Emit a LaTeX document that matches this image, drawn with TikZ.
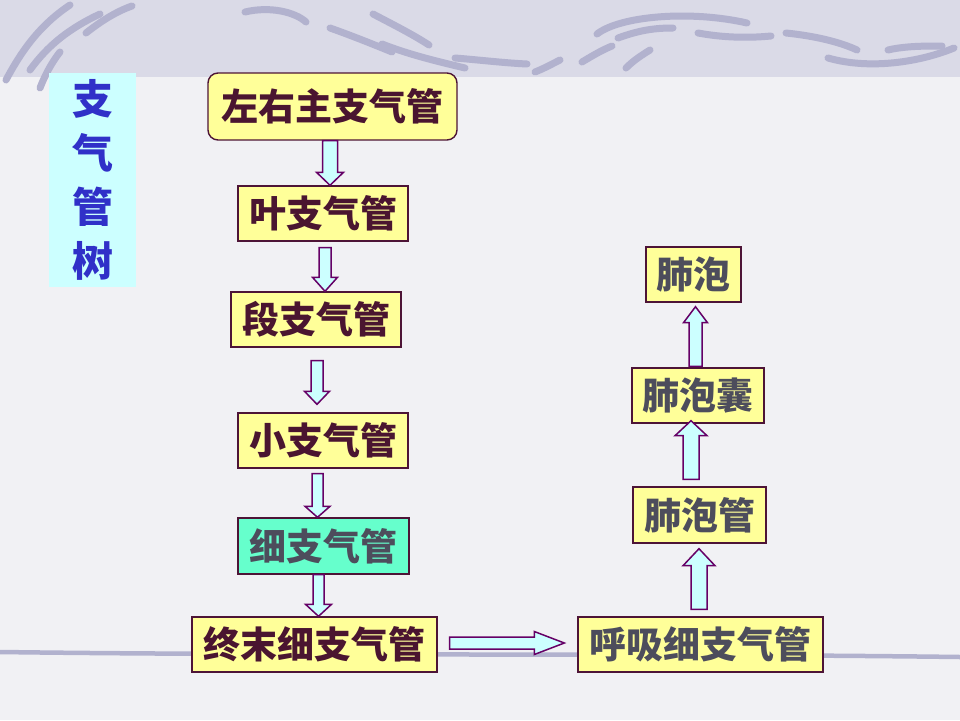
\documentclass[tikz,border=0pt]{standalone}
\usepackage{fontspec}
\newfontfamily\cjk{Noto Sans CJK SC}
\usetikzlibrary{calc}
\definecolor{slidebg}{HTML}{F1F1F4}
\definecolor{bandbg}{HTML}{DADAE7}
\definecolor{swirl}{HTML}{B2B2CE}
\definecolor{boxfill}{HTML}{FFFF99}
\definecolor{aquafill}{HTML}{66FFCC}
\definecolor{titlefill}{HTML}{CCFFFF}
\definecolor{titletext}{HTML}{3030C8}
\definecolor{boxline}{HTML}{4D1436}
\definecolor{lefttext}{HTML}{4A1530}
\definecolor{righttext}{HTML}{4D4D5C}
\definecolor{arrowfill}{HTML}{CCFFFF}
\definecolor{arrowline}{HTML}{660066}
\tikzset{x=1pt, y=-1pt, % one unit is one pixel of the slide
organ/.style 2 args={ % yellow boxes of the tree
draw=boxline,
fill=boxfill,
line width=1.4pt,
inner sep=0pt,
minimum width=#1,
minimum height=#2,
text=lefttext,
font=\cjk\bfseries\fontsize{37}{40}\selectfont},
blockarrow/.style n args={3}{ % hollow arrow: shaft half width, head half width, head length
draw=arrowline,
fill=arrowfill,
line width=1.5pt,
to path={let \p1=($(\tikztotarget)!#3!(\tikztostart)$) in
($(\tikztostart)!#1!90:(\tikztotarget)$) -- ($(\p1)!#1!90:(\tikztotarget)$)
-- ($(\p1)!#2!90:(\tikztotarget)$) -- (\tikztotarget)
-- ($(\p1)!#2!-90:(\tikztotarget)$) -- ($(\p1)!#1!-90:(\tikztotarget)$)
-- ($(\tikztostart)!#1!-90:(\tikztotarget)$) -- cycle}}}

\begin{document}
\begin{tikzpicture}
\useasboundingbox (0,0) rectangle (960,720);
% slide background
\fill[slidebg] (0,0) rectangle (960,720);
\fill[bandbg] (0,0) rectangle (960,77);
\begin{scope}[draw=swirl, line width=7pt, line cap=round]
\draw (6,80) .. controls (22,50) and (40,25) .. (70,5);
\draw (30,70) .. controls (48,45) and (70,28) .. (100,14);
\draw (86,33) .. controls (100,22) and (115,12) .. (132,6);
\draw (40,88) .. controls (45,75) and (52,62) .. (60,52);
\draw (245,12) .. controls (270,6) and (295,12) .. (306,22);
\draw (330,28) .. controls (350,35) and (375,45) .. (392,52);
\draw (373,14) .. controls (392,24) and (412,34) .. (429,45);
\draw (382,44) .. controls (410,55) and (440,62) .. (465,68);
\draw (455,58) .. controls (480,60) and (505,63) .. (527,64);
\draw (535,72) .. controls (545,68) and (552,64) .. (560,60);
\draw (582,62) .. controls (592,56) and (602,50) .. (612,46);
\draw (626,68) .. controls (634,60) and (642,55) .. (650,50);
\draw (597,34) .. controls (620,16) and (690,10) .. (747,23);
\draw (618,38) .. controls (640,30) and (655,28) .. (673,28);
\draw (698,33) .. controls (725,38) and (750,38) .. (771,36);
\draw (786,33) .. controls (815,36) and (840,42) .. (857,50);
\draw (828,58) .. controls (870,70) and (920,62) .. (954,48);
\draw (888,50) .. controls (905,46) and (925,46) .. (942,46);
\end{scope}
\draw[swirl, line width=4.5pt, line cap=round] (0,652) .. controls (300,656) and (650,653) .. (960,657);
% left column
\node[organ={249pt}{67pt}, rounded corners=10pt] (zhu) at (332.5,106.5) {左右主支气管};
\node[organ={170pt}{55pt}] (ye) at (323,213.5) {叶支气管};
\node[organ={170pt}{55pt}] (duan) at (316,319.5) {段支气管};
\node[organ={170pt}{55pt}] (xiao) at (323,440.5) {小支气管};
\node[organ={171pt}{56pt}, fill=aquafill, text=righttext] (xi) at (323.5,546) {细支气管};
\node[organ={245pt}{55pt}] (zhongmo) at (314.5,644.5) {终末细支气管};
% right column
\node[organ={245pt}{55pt}, text=righttext] (huxi) at (700.5,644.5) {呼吸细支气管};
\node[organ={133pt}{56pt}, text=righttext] (paoguan) at (699.5,515) {肺泡管};
\node[organ={132pt}{55pt}, text=righttext] (paonang) at (698,395.5) {肺泡囊};
\node[organ={95pt}{55pt}, text=righttext] (feipao) at (693.5,274.5) {肺泡};
% title
\node[fill=titlefill, minimum width=87pt, minimum height=214pt, inner sep=0pt,
text=titletext, align=center, font=\cjk\bfseries\fontsize{41}{54}\selectfont] (title) at (92.5,180) {支\\气\\管\\树};
% arrow ends
\coordinate (a1s) at ([xshift=-2.5pt]zhu.south);
\coordinate (a1e) at ([xshift=7pt]ye.north);
\coordinate (a2s) at ([xshift=2pt,yshift=-6pt]ye.south);
\coordinate (a2e) at ([xshift=9pt]duan.north);
\coordinate (a3s) at ([xshift=1pt,yshift=-13pt]duan.south);
\coordinate (a3e) at ([xshift=-6pt,yshift=8pt]xiao.north);
\coordinate (a4s) at ([xshift=-5.5pt,yshift=-5pt]xiao.south);
\coordinate (a4e) at ([xshift=-6pt]xi.north);
\coordinate (a5s) at ([xshift=-5pt]xi.south);
\coordinate (a5e) at ([xshift=4pt]zhongmo.north);
\coordinate (h1s) at ([xshift=12pt,yshift=1.5pt]zhongmo.east);
\coordinate (h1e) at ([xshift=-13pt,yshift=1.5pt]huxi.west);
\coordinate (u1s) at ([xshift=-1.5pt,yshift=7pt]huxi.north);
\coordinate (u1e) at ([xshift=-0.5pt,yshift=-5pt]paoguan.south);
\coordinate (u2s) at ([xshift=-8.5pt,yshift=7pt]paoguan.north);
\coordinate (u2e) at ([xshift=-7pt,yshift=3pt]paonang.south);
\coordinate (u3s) at ([xshift=-2.5pt,yshift=1pt]paonang.north);
\coordinate (u3e) at ([xshift=2pt,yshift=-4pt]feipao.south);
\draw[blockarrow={7.5pt}{13.5pt}{13pt}] (a1s) to (a1e);
\draw[blockarrow={6pt}{12.5pt}{14pt}] (a2s) to (a2e);
\draw[blockarrow={6pt}{12.5pt}{13pt}] (a3s) to (a3e);
\draw[blockarrow={5.5pt}{12.5pt}{11pt}] (a4s) to (a4e);
\draw[blockarrow={5.5pt}{13pt}{12pt}] (a5s) to (a5e);
\draw[blockarrow={6pt}{11.5pt}{30pt}] (h1s) to (h1e);
\draw[blockarrow={8pt}{16pt}{17pt}] (u1s) to (u1e);
\draw[blockarrow={8pt}{16pt}{15pt}] (u2s) to (u2e);
\draw[blockarrow={6.5pt}{12pt}{16pt}] (u3s) to (u3e);
\end{tikzpicture}
\end{document}
